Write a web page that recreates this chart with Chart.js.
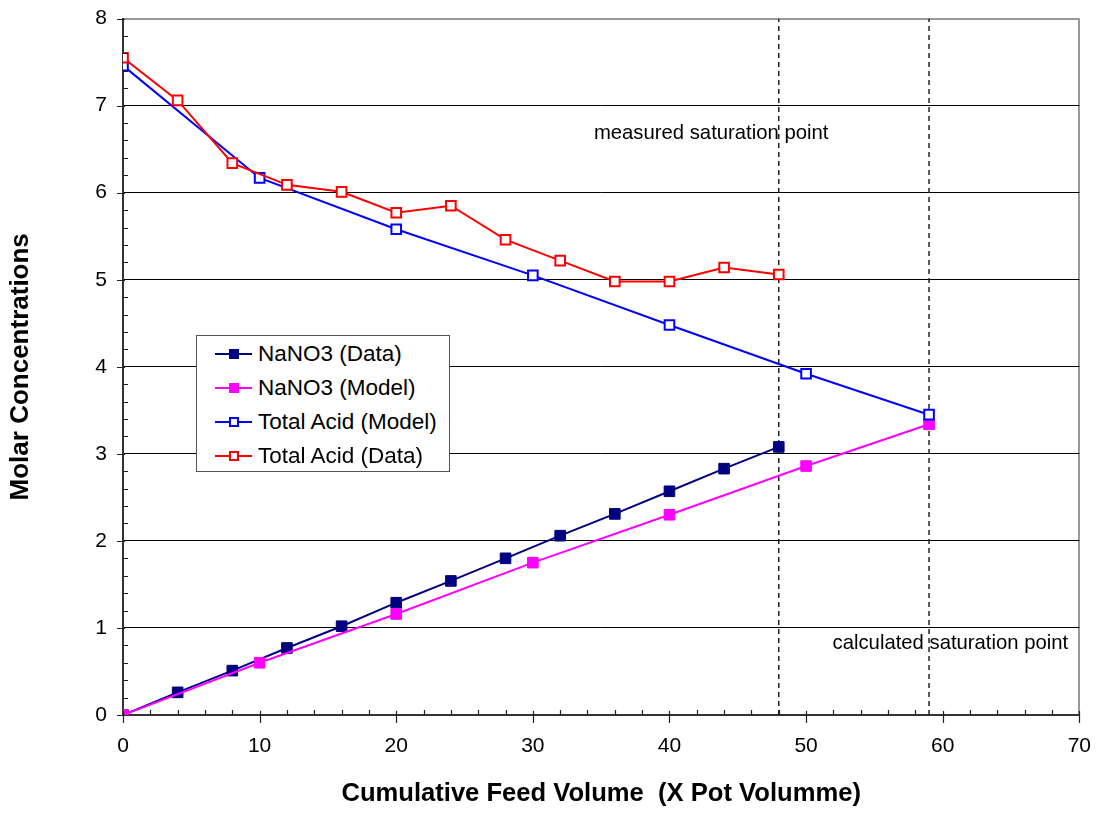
<!DOCTYPE html>
<html>
<head>
<meta charset="utf-8">
<script src="https://cdn.jsdelivr.net/npm/chart.js@4/dist/chart.umd.min.js"></script>
<style>
  html, body { margin: 0; padding: 0; background: #fff; overflow: hidden; }
  #wrap { position: relative; width: 1102px; height: 819px; overflow: hidden; }
  #c { position: absolute; left: 0; top: -10px; }
  #legend { position: absolute; left: 196px; top: 335px; width: 252px; height: 135px;
            border: 1px solid #555; background: #fff;
            font-family: "Liberation Sans", Arial, sans-serif; font-size: 22.5px; color: #000; }
  .row { position: absolute; left: 0; width: 100%; height: 34px; line-height: 34px; }
  .sample { position: absolute; left: 18px; top: 16px; width: 37px; height: 2px; }
  .mark { position: absolute; box-sizing: border-box; }
  .label { position: absolute; left: 61px; top: 0; white-space: nowrap; }
</style>
</head>
<body>
<div id="wrap">
  <canvas id="c" width="1110" height="829"></canvas>
  <div id="legend"></div>
</div>
<script>
// ---- data ----
const xData = [0, 4, 8, 12, 16, 20, 24, 28, 32, 36, 40, 44, 48];
const nano3Data = [0, 0.26, 0.51, 0.77, 1.02, 1.29, 1.54, 1.80, 2.06, 2.31, 2.57, 2.83, 3.08];
const totalAcidData = [7.55, 7.06, 6.34, 6.09, 6.01, 5.77, 5.85, 5.46, 5.22, 4.98, 4.98, 5.14, 5.06];

const xModel = [0, 10, 20, 30, 40, 50, 59];
const nano3Model = [0, 0.60, 1.16, 1.75, 2.30, 2.86, 3.34];
const totalAcidModel = [7.46, 6.17, 5.58, 5.05, 4.48, 3.92, 3.45];

const saturationX = [48, 59];
const annotations = [
  { text: 'measured saturation point', x: 43.05, y: 6.68 },
  { text: 'calculated saturation point', x: 60.56, y: 0.82 }
];
const seriesNames = ['NaNO3 (Data)', 'NaNO3 (Model)', 'Total Acid (Model)', 'Total Acid (Data)'];

const FONT = '"Liberation Sans", Arial, sans-serif';
const pts = (xs, ys) => xs.map((x, i) => ({ x: x, y: ys[i] }));

const series = [
  { label: seriesNames[0], data: pts(xData, nano3Data), color: '#000080', filled: true, order: 3 },
  { label: seriesNames[1], data: pts(xModel, nano3Model), color: '#FF00FF', filled: true, order: 2 },
  { label: seriesNames[2], data: pts(xModel, totalAcidModel), color: '#0000FF', filled: false, order: 1 },
  { label: seriesNames[3], data: pts(xData, totalAcidData), color: '#FF0000', filled: false, order: 0 }
];

const datasets = series.map(s => ({
  label: s.label,
  data: s.data,
  showLine: true,
  borderColor: s.color,
  borderWidth: 2,
  backgroundColor: s.color,
  pointStyle: 'rect',
  pointRadius: s.filled ? 7.5 : 6.8,
  pointBackgroundColor: s.filled ? s.color : '#ffffff',
  pointBorderColor: s.color,
  pointBorderWidth: s.filled ? 1 : 2,
  order: s.order
}));

saturationX.forEach(v => {
  datasets.push({
    label: '',
    data: [{ x: v, y: 0 }, { x: v, y: 8 }],
    showLine: true,
    borderColor: '#222',
    borderWidth: 1.5,
    borderDash: [5, 4],
    pointRadius: 0,
    order: 10
  });
});

const decoPlugin = {
  id: 'deco',
  afterDraw(chart) {
    const ctx = chart.ctx;
    const xs = chart.scales.x, ys = chart.scales.y;
    const x0 = xs.getPixelForValue(0), y0 = ys.getPixelForValue(0);
    ctx.save();
    ctx.strokeStyle = '#222';
    ctx.lineWidth = 1.2;
    ctx.beginPath();
    for (let v = 0; v <= 70; v += 2) {
      const px = Math.round(xs.getPixelForValue(v)) + 0.5;
      if (v % 10 === 0) { ctx.moveTo(px, y0 - 4); ctx.lineTo(px, y0 + 8); }
      else { ctx.moveTo(px, y0 - 5); ctx.lineTo(px, y0); }
    }
    for (let k = 0; k <= 40; k++) {
      const v = k / 5;
      const py = Math.round(ys.getPixelForValue(v)) + 0.5;
      if (k % 5 === 0) { ctx.moveTo(x0 - 6, py); ctx.lineTo(x0 + 2, py); }
      else { ctx.moveTo(x0, py); ctx.lineTo(x0 + 5, py); }
    }
    ctx.stroke();
    ctx.fillStyle = '#000';
    ctx.font = '20.3px ' + FONT;
    ctx.textAlign = 'center';
    ctx.textBaseline = 'middle';
    annotations.forEach(a => {
      ctx.fillText(a.text, xs.getPixelForValue(a.x), ys.getPixelForValue(a.y));
    });
    ctx.restore();
  }
};

new Chart(document.getElementById('c'), {
  type: 'scatter',
  data: { datasets: datasets },
  options: {
    responsive: false,
    maintainAspectRatio: false,
    animation: false,
    devicePixelRatio: 1,
    layout: { padding: { top: 9, right: 15, left: 0, bottom: 0 } },
    plugins: { legend: { display: false }, tooltip: { enabled: false } },
    scales: {
      x: {
        type: 'linear', min: 0, max: 70,
        afterFit: s => { s.height = 104; },
        ticks: { stepSize: 10, color: '#000', padding: 19, font: { family: FONT, size: 21 } },
        grid: {
          drawTicks: false,
          color: c => (c.tick && c.tick.value === 70) ? '#999' : 'rgba(0,0,0,0)',
          lineWidth: 2
        },
        border: { display: true, color: '#333', width: 2 },
        title: { display: true, text: 'Cumulative Feed Volume  (X Pot Volumme)', color: '#000',
                 font: { family: FONT, size: 25.6, weight: 'bold' }, padding: { bottom: 10, top: 0 } }
      },
      y: {
        type: 'linear', min: 0, max: 8,
        afterFit: s => { s.width = 123; },
        ticks: { stepSize: 1, color: '#000', padding: 16, font: { family: FONT, size: 21 } },
        grid: {
          drawTicks: false,
          color: c => (c.tick && c.tick.value === 8) ? '#999' : '#000',
          lineWidth: c => (c.tick && c.tick.value === 8) ? 2 : 1
        },
        border: { display: true, color: '#333', width: 2 },
        title: { display: true, text: 'Molar Concentrations', color: '#000',
                 font: { family: FONT, size: 26, weight: 'bold' }, padding: { top: 5, bottom: 0 } }
      }
    }
  },
  plugins: [decoPlugin]
});

// HTML legend built from the series
const legend = document.getElementById('legend');
series.forEach((s, i) => {
  const row = document.createElement('div');
  row.className = 'row';
  row.style.top = (1 + i * 34) + 'px';
  const sample = document.createElement('span');
  sample.className = 'sample';
  sample.style.background = s.color;
  const mark = document.createElement('span');
  mark.className = 'mark';
  mark.style.width = '10px'; mark.style.height = '10px';
  mark.style.left = '13.5px'; mark.style.top = '-4px';
  if (s.filled) {
    mark.style.background = s.color;
  } else {
    mark.style.background = '#fff';
    mark.style.border = '2px solid ' + s.color;
  }
  sample.appendChild(mark);
  const label = document.createElement('span');
  label.className = 'label';
  label.textContent = s.label;
  row.appendChild(sample);
  row.appendChild(label);
  legend.appendChild(row);
});
</script>
</body>
</html>
